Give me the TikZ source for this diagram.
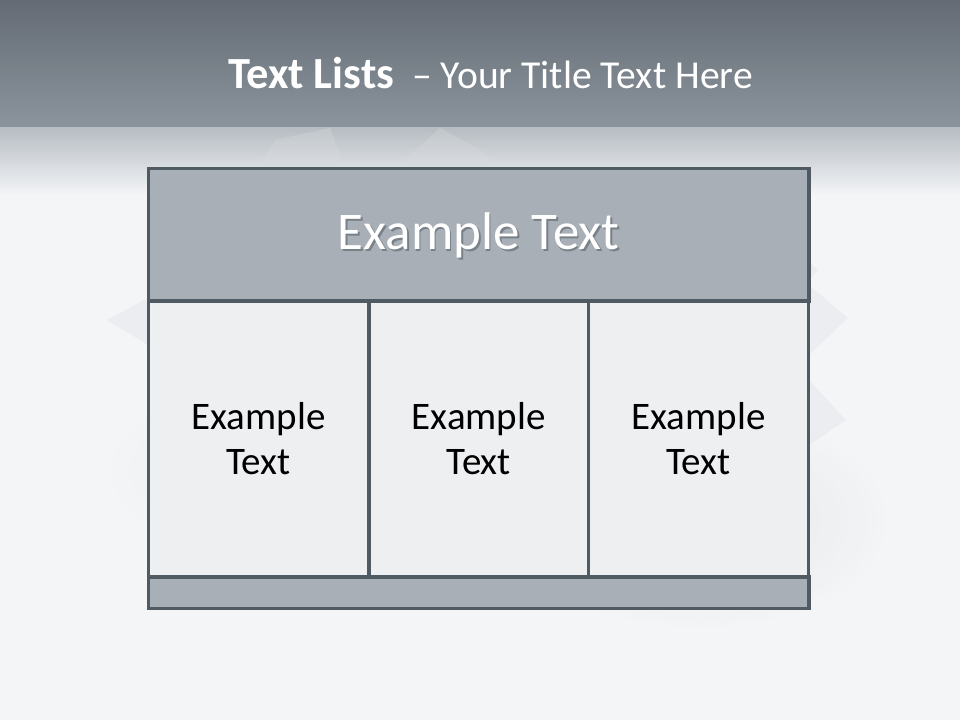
\documentclass[tikz,border=0pt]{standalone}
\usepackage{fontspec}
\setmainfont{Carlito}
\usetikzlibrary{positioning,calc}
\definecolor{bandtop}{HTML}{646B74}
\definecolor{bandbot}{HTML}{8B949C}
\definecolor{fadetop}{HTML}{B6BCC2}
\definecolor{pagebg}{HTML}{F3F5F7}
\definecolor{frameline}{HTML}{505A63}
\definecolor{headfill}{HTML}{A8AFB6}
\definecolor{cellfill}{HTML}{EEEFF1}
\definecolor{paper}{HTML}{D9DDE0}

\tikzset{
  cellbox/.style={draw=frameline,line width=3.5pt,fill=cellfill,anchor=north west,
    minimum width=220pt,minimum height=276pt,inner sep=0pt,outer sep=0pt,align=center,
    font=\fontsize{39}{45}\selectfont,text=black},
  headbox/.style={draw=frameline,line width=3.5pt,fill=headfill,anchor=north west,
    minimum width=660.5pt,minimum height=132.5pt,inner sep=0pt,outer sep=0pt},
  footbox/.style={draw=frameline,line width=3.5pt,fill=headfill,anchor=north west,
    minimum width=660.5pt,minimum height=31.5pt,inner sep=0pt,outer sep=0pt},
  papershape/.style={fill=paper,opacity=0.3}
}
\newcommand{\shadowed}[1]{\makebox[0pt][l]{\hspace{1.5pt}\raisebox{-2pt}{\textcolor{frameline!55!headfill}{#1}}}#1}

\begin{document}
\begin{tikzpicture}[x=1pt,y=-1pt]
  % background
  \useasboundingbox (0,0) rectangle (960,720);
  \fill[pagebg] (0,0) rectangle (960,720);
  \shade[top color=bandtop,bottom color=bandbot] (0,0) rectangle (960,127);
  \shade[top color=fadetop,bottom color=pagebg] (0,127) rectangle (960,195);

  % soft shadow behind the table
  \shade[inner color=black!12,outer color=pagebg,opacity=0.7] (700,520) ellipse (190 and 110);
  \shade[inner color=black!8,outer color=pagebg,opacity=0.6] (300,470) ellipse (200 and 90);

  % faint paper stack peeking out
  \fill[papershape] (258,168) -- (275,140) -- (330,128) -- (345,168) -- cycle;
  \fill[papershape] (395,168) -- (440,128) -- (480,150) -- (500,168) -- cycle;
  \fill[papershape] (809,262) -- (818,270) -- (809,280) -- cycle;
  \fill[papershape] (809,285) -- (848,318) -- (809,355) -- cycle;
  \fill[papershape] (809,380) -- (846,420) -- (809,445) -- cycle;
  \fill[papershape] (148,298) -- (107,320) -- (148,345) -- cycle;

  % title
  \node[text=white,anchor=base west,inner sep=0pt] (title) at (228,88)
    {\fontsize{44.5}{50}\selectfont\textbf{Text Lists}\hspace{18pt}\fontsize{39.6}{50}\selectfont– Your Title Text Here};

  % table
  \node[headbox] (head) at (148.5,168.5) {};
  \node[cellbox] (cellA) at (148.5,301) {Example\\Text};
  \node[cellbox,minimum width=219.5pt] (cellB) at (369,301) {Example\\Text};
  \node[cellbox] (cellC) at (588.5,301) {Example\\Text};
  \node[footbox] (foot) at (148.5,577) {};

  % header label
  \node[text=white,font=\fontsize{53}{60}\selectfont] (headlabel)
    at ($(head.center)+(0,2)$) {\shadowed{Example Text}};
\end{tikzpicture}
\end{document}
